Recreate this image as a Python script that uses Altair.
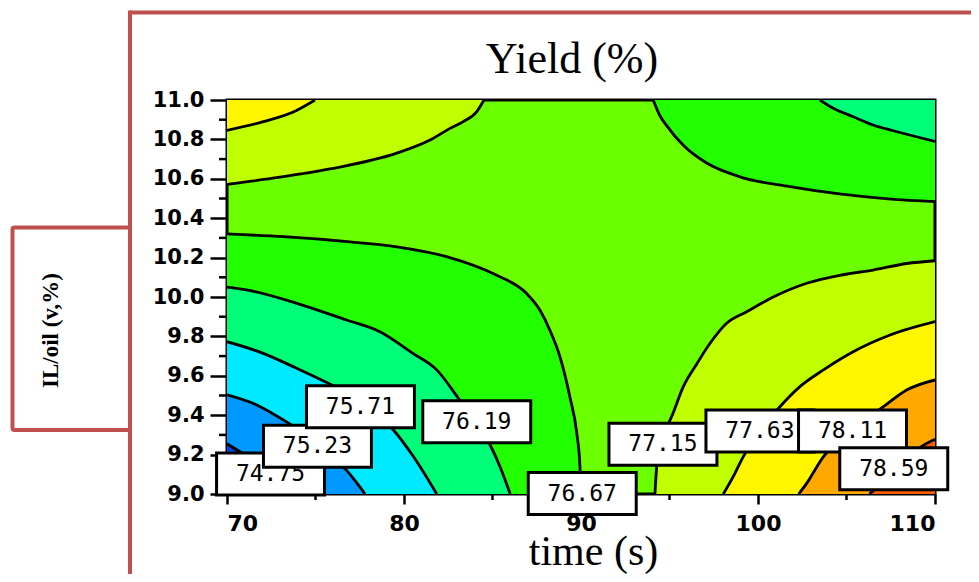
import altair as alt
import pandas as pd

# ---------------- data ----------------
x_ticks = [70, 80, 90, 100, 110]
x_minor = [75, 85, 95, 105]
y_ticks = [9.0, 9.2, 9.4, 9.6, 9.8, 10.0, 10.2, 10.4, 10.6, 10.8, 11.0]
y_minor = [9.1, 9.3, 9.5, 9.7, 9.9, 10.1, 10.3, 10.5, 10.7, 10.9]

# contour lines (time, IL/oil) for each level piece
bl_7667_x = [70, 73.2, 76.95, 79.6, 82.4, 85.24, 86.9, 87.7, 88.25, 88.8, 89.38, 89.76, 89.94, 90.0]
bl_7667_y = [10.32, 10.306, 10.28, 10.255, 10.205, 10.11, 10.02, 9.93, 9.83, 9.70, 9.49, 9.31, 9.14, 9.0]
bl_7619_x = [70, 71.1, 73.94, 76.76, 78.64, 80.5, 81.85, 83.07, 84.0, 84.86, 85.42, 86.0]
bl_7619_y = [10.05, 10.036, 9.968, 9.883, 9.824, 9.714, 9.63, 9.486, 9.37, 9.25, 9.14, 9.0]
bl_7571_x = [70, 72.05, 73.94, 75.54, 76.5, 77.5, 78.5, 79.4, 80.53, 81.85]
bl_7571_y = [9.773, 9.714, 9.638, 9.57, 9.525, 9.47, 9.40, 9.325, 9.19, 9.0]
bl_7523_x = [70, 71.68, 73.18, 74.3, 75.4, 76.2, 76.76, 77.3, 77.8]
bl_7523_y = [9.503, 9.452, 9.376, 9.31, 9.23, 9.165, 9.12, 9.06, 9.0]
bl_7475_x = [70, 70.6, 71.8, 73.0, 74.0, 74.9]
bl_7475_y = [9.255, 9.222, 9.16, 9.095, 9.04, 9.0]

tl_7715_x = [70, 72.99, 75.82, 79.59, 81.47, 82.6, 83.35, 84.1, 84.52]
tl_7715_y = [10.572, 10.608, 10.65, 10.73, 10.797, 10.856, 10.89, 10.94, 11.0]
tl_7763_x = [70, 72.05, 73.9, 74.97]
tl_7763_y = [10.846, 10.89, 10.946, 11.0]

tr_7667_x = [94.08, 94.46, 94.84, 95.78, 97.1, 98.98, 101.8, 104.6, 107.5, 110]
tr_7667_y = [11.0, 10.92, 10.87, 10.77, 10.68, 10.61, 10.56, 10.523, 10.497, 10.484]
tr_7619_x = [103.5, 104.25, 105.38, 106.5, 107.65, 110]
tr_7619_y = [11.0, 10.958, 10.915, 10.873, 10.844, 10.79]

br_7715_x = [94.18, 94.28, 94.7, 95.2, 95.78, 96.54, 97.29, 98.23, 99.36, 100.86, 102.75, 104.6, 106.5, 108.4, 110]
br_7715_y = [9.0, 9.14, 9.3, 9.41, 9.545, 9.66, 9.765, 9.867, 9.925, 10.0, 10.07, 10.11, 10.137, 10.17, 10.184]
br_7763_x = [98.04, 98.6, 99.17, 100.2, 101.24, 102.37, 103.7, 105.38, 107.46, 110]
br_7763_y = [9.0, 9.088, 9.19, 9.33, 9.443, 9.545, 9.63, 9.722, 9.807, 9.875]
br_7811_x = [102.3, 102.75, 103.7, 105.0, 106.0, 107.08, 108.4, 110]
br_7811_y = [9.0, 9.054, 9.19, 9.3, 9.37, 9.443, 9.528, 9.579]
br_7859_x = [106.3, 107.2, 108.2, 109.15, 110]
br_7859_y = [9.0, 9.07, 9.15, 9.235, 9.278]

# contour labels
label_text = ["74.75", "75.23", "75.71", "76.19", "76.67", "77.15", "77.63", "78.11", "78.59"]
label_x = [72.46, 75.11, 77.54, 84.11, 90.07, 94.63, 100.11, 105.34, 107.67]
label_y = [9.102, 9.243, 9.443, 9.367, 9.002, 9.252, 9.32, 9.32, 9.128]

# ---------------- styling ----------------
C_DARKBLUE = "#0047e6"
C_BLUE = "#0099ff"
C_CYAN = "#00eaff"
C_SPRING = "#00ff78"
C_GREEN = "#22ff00"
C_LIME = "#6cff00"
C_YGREEN = "#c0ff00"
C_YELLOW = "#fff600"
C_ORANGE = "#ffa800"
C_RED = "#ff5c00"
RED_FRAME = "#c0504d"

pieces = [
    ("bl_7667", C_GREEN, 9.0, bl_7667_x, bl_7667_y),
    ("bl_7619", C_SPRING, 9.0, bl_7619_x, bl_7619_y),
    ("bl_7571", C_CYAN, 9.0, bl_7571_x, bl_7571_y),
    ("bl_7523", C_BLUE, 9.0, bl_7523_x, bl_7523_y),
    ("bl_7475", C_DARKBLUE, 9.0, bl_7475_x, bl_7475_y),
    ("tl_7715", C_YGREEN, 11.0, tl_7715_x, tl_7715_y),
    ("tl_7763", C_YELLOW, 11.0, tl_7763_x, tl_7763_y),
    ("tr_7667", C_GREEN, 11.0, tr_7667_x, tr_7667_y),
    ("tr_7619", C_SPRING, 11.0, tr_7619_x, tr_7619_y),
    ("br_7715", C_YGREEN, 9.0, br_7715_x, br_7715_y),
    ("br_7763", C_YELLOW, 9.0, br_7763_x, br_7763_y),
    ("br_7811", C_ORANGE, 9.0, br_7811_x, br_7811_y),
    ("br_7859", C_RED, 9.0, br_7859_x, br_7859_y),
]

rows = []
for pid, col, base, xs, ys in pieces:
    for xv, yv in zip(xs, ys):
        rows.append({"piece": pid, "time": xv, "il": yv, "base": base})
df = pd.DataFrame(rows)

XS = alt.Scale(domain=[70, 110], nice=False, zero=False)
YS = alt.Scale(domain=[9.0, 11.0], nice=False, zero=False)

xaxis = alt.Axis(
    values=x_ticks, format="d", grid=False, domain=False,
    tickSize=10, tickWidth=2.5, tickColor="black",
    labelFont="DejaVu Sans", labelFontWeight="bold", labelFontSize=22,
    labelColor="black", labelPadding=9,
    title="time (s)", titleFont="Liberation Serif", titleFontSize=42,
    titleFontWeight="normal", titleColor="black",
    titleX=366, titleY=70, titleBaseline="alphabetic", titleAlign="center",
)
yaxis = alt.Axis(
    values=y_ticks, format=".1f", grid=False, domain=False,
    tickSize=17, tickWidth=2.5, tickColor="black",
    labelFont="DejaVu Sans", labelFontWeight="bold", labelFontSize=21,
    labelColor="black", labelPadding=6,
    title="IL/oil (v,%)", titleFont="Liberation Serif", titleFontSize=23,
    titleFontWeight="bold", titleColor="black", titleAngle=270,
    titleX=-177, titleY=230, titleAlign="center", titleBaseline="middle",
)


def X(field):
    return alt.X(field, type="quantitative", scale=XS, axis=xaxis)


def Y(field):
    return alt.Y(field, type="quantitative", scale=YS, axis=yaxis)


layers = []
for pid, col, base, xs, ys in pieces:
    layers.append(
        alt.Chart(df).transform_filter(alt.datum.piece == pid)
        .mark_area(color=col, interpolate="monotone", clip=True)
        .encode(x=X("time"), y=Y("il"), y2="base:Q")
    )

layers.append(
    alt.Chart(df).mark_line(color="black", strokeWidth=2.8, interpolate="monotone", clip=True)
    .encode(x=X("time"), y=Y("il"), detail="piece:N")
)

# minor ticks (drawn before the label boxes, which cover them)
layers.append(
    alt.Chart(pd.DataFrame({"v": x_minor})).mark_rule(color="black", strokeWidth=2.5)
    .encode(x=X("v"), y=alt.value(394), y2=alt.value(400))
)
layers.append(
    alt.Chart(pd.DataFrame({"v": y_minor})).mark_rule(color="black", strokeWidth=2.5)
    .encode(y=Y("v"), x=alt.value(-8), x2=alt.value(0))
)

# label boxes (half width / half height in data units)
HW = 3.05
HH = 0.1066
for t, lx, ly in zip(label_text, label_x, label_y):
    ldf = pd.DataFrame({"lab": [t], "lx": [lx], "ly": [ly],
                        "x1": [lx - HW], "x2": [lx + HW],
                        "y1": [ly - HH], "y2": [ly + HH]})
    layers.append(
        alt.Chart(ldf).mark_rect(fill="white", stroke="black", strokeWidth=3)
        .encode(x=X("x1"), x2="x2:Q", y=Y("y1"), y2="y2:Q")
    )
    layers.append(
        alt.Chart(ldf).mark_text(font="DejaVu Sans Mono", fontSize=23, color="black",
                                 align="center", baseline="middle")
        .encode(x=X("lx"), y=Y("ly"), text="lab:N")
    )

one = pd.DataFrame({"a": [0]})
# decorative red frames
layers.append(
    alt.Chart(one).mark_rule(color=RED_FRAME, strokeWidth=4)
    .encode(x=alt.value(-97), x2=alt.value(760), y=alt.value(-87.5))
)
layers.append(
    alt.Chart(one).mark_rule(color=RED_FRAME, strokeWidth=4)
    .encode(x=alt.value(-97), y=alt.value(-89.5), y2=alt.value(490))
)
layers.append(
    alt.Chart(one).mark_rect(filled=False, stroke=RED_FRAME, strokeWidth=4, cornerRadius=2)
    .encode(x=alt.value(-214.5), x2=alt.value(-97), y=alt.value(127.5), y2=alt.value(330))
)
# chart title
layers.append(
    alt.Chart(one).mark_text(text="Yield (%)", font="Liberation Serif", fontSize=44,
                             color="black", align="center", baseline="alphabetic")
    .encode(x=alt.value(345), y=alt.value(-27))
)

chart = (
    alt.layer(*layers)
    .properties(width=708, height=394,
                autosize=alt.AutoSizeParams(type="none"),
                padding={"left": 219, "top": 92, "right": 36, "bottom": 80},
                background="white")
    .configure_view(fill=C_LIME, stroke="black", strokeWidth=3)
)

chart.save("out.html", embed_options={"renderer": "svg", "actions": False})
